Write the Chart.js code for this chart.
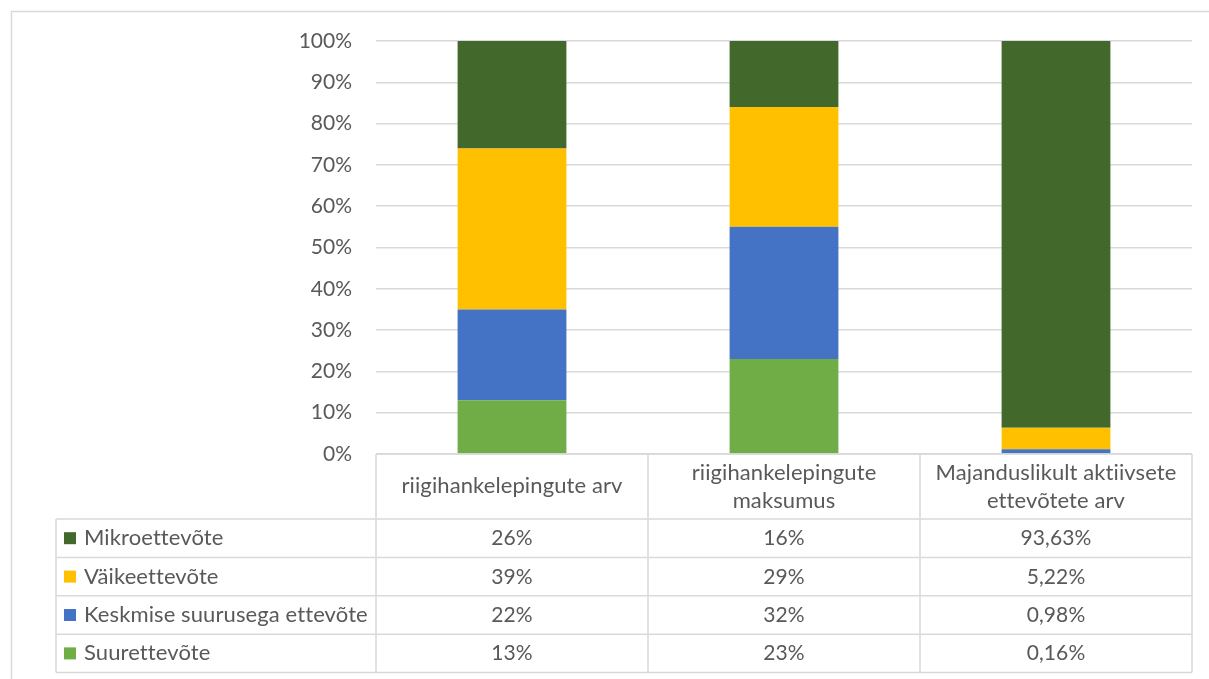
<!DOCTYPE html>
<html lang="et">
<head>
<meta charset="utf-8">
<title>Ettevõtete osakaal riigihangetes</title>
<script src="https://cdn.jsdelivr.net/npm/chart.js@4.4.1/dist/chart.umd.min.js"></script>
<style>
  html, body { margin: 0; padding: 0; background: #ffffff; }
  #wrap { position: relative; width: 1209px; height: 679px; }
  canvas { display: block; }
</style>
</head>
<body>
<div id="wrap"><canvas id="chart" width="1209" height="679"></canvas></div>
<script>
// Categories (column headers of the data table; "\n" marks a line break)
const categories = [
  'riigihankelepingute arv',
  'riigihankelepingute\nmaksumus',
  'Majanduslikult aktiivsete\nettevõtete arv'
];
// Decimal places shown in the table for each category
const decimals = [0, 0, 2];

// Shares (%) by company size
const suurettevote = [13, 23, 0.16];
const keskmine = [22, 32, 0.98];
const vaikeettevote = [39, 29, 5.22];
const mikroettevote = [26, 16, 93.63];

// Y axis ticks
const yTicks = [0, 10, 20, 30, 40, 50, 60, 70, 80, 90, 100];

const seriesDefs = [
  { label: 'Suurettevõte', values: suurettevote, color: '#70AD47' },
  { label: 'Keskmise suurusega ettevõte', values: keskmine, color: '#4472C4' },
  { label: 'Väikeettevõte', values: vaikeettevote, color: '#FFC000' },
  { label: 'Mikroettevõte', values: mikroettevote, color: '#43682B' }
];

const FONT = 'Lato, "Liberation Sans", sans-serif';
const TEXT_SIZE = 22;   // words
const NUM_SIZE = 21;    // numbers
const TEXT = '#595959';
const LINE = '#D9D9D9';

// 100% stacked: each column is normalised to its own total
const totals = categories.map((_, i) =>
  seriesDefs.reduce((s, d) => s + d.values[i], 0));

const datasets = seriesDefs.map(d => ({
  label: d.label,
  data: d.values.map((v, i) => v / totals[i] * 100),
  backgroundColor: d.color,
  borderWidth: 0,
  barPercentage: 0.4,
  categoryPercentage: 1.0,
  stack: 's'
}));

const fmt = (v, dec) => v.toFixed(dec).replace('.', ',') + '%';

// Outer frame + data table with legend keys under the plot
const tablePlugin = {
  id: 'dataTable',
  beforeDraw(chart) {
    const ctx = chart.ctx;
    ctx.save();
    ctx.strokeStyle = LINE;
    ctx.lineWidth = 1.5;
    ctx.beginPath();
    ctx.moveTo(11.5, chart.height);
    ctx.lineTo(11.5, 11.5);
    ctx.lineTo(chart.width, 11.5);
    ctx.stroke();
    ctx.restore();
  },
  afterDraw(chart) {
    const ctx = chart.ctx;
    const area = chart.chartArea;
    const xs = chart.scales.x;
    const n = categories.length;
    const colW = (area.right - area.left) / n;
    const top = area.bottom;
    const headH = 65;
    const rowH = 38.4;
    const legendLeft = 56;
    const rowsTop = top + headH;
    const rows = seriesDefs.slice().reverse();
    const bottom = rowsTop + rows.length * rowH;

    ctx.save();
    ctx.strokeStyle = LINE;
    ctx.lineWidth = 1.5;
    ctx.beginPath();
    // horizontal lines
    ctx.moveTo(area.left, top); ctx.lineTo(area.right, top);
    for (let r = 0; r <= rows.length; r++) {
      const y = rowsTop + r * rowH;
      ctx.moveTo(legendLeft, y); ctx.lineTo(area.right, y);
    }
    // vertical lines
    ctx.moveTo(legendLeft, rowsTop); ctx.lineTo(legendLeft, bottom);
    for (let c = 0; c <= n; c++) {
      const x = area.left + c * colW;
      ctx.moveTo(x, top); ctx.lineTo(x, bottom);
    }
    ctx.stroke();

    ctx.fillStyle = TEXT;
    ctx.textAlign = 'center';
    ctx.textBaseline = 'alphabetic';
    // a tiny letter spacing keeps "ti"/"tt" as separate letters
    if ('letterSpacing' in ctx) ctx.letterSpacing = '0.1px';

    // column headers
    ctx.font = TEXT_SIZE + 'px ' + FONT;
    categories.forEach((cat, i) => {
      const cx = xs.getPixelForValue(i);
      const lines = cat.split('\n');
      if (lines.length === 1) {
        ctx.fillText(lines[0], cx, top + 39);
      } else {
        ctx.fillText(lines[0], cx, top + 26);
        ctx.fillText(lines[1], cx, top + 54);
      }
    });

    // rows: legend key + values
    rows.forEach((s, r) => {
      const yc = rowsTop + r * rowH + rowH / 2;
      ctx.fillStyle = s.color;
      ctx.fillRect(64, yc - 6, 12, 12);
      ctx.fillStyle = TEXT;
      ctx.textAlign = 'left';
      ctx.font = TEXT_SIZE + 'px ' + FONT;
      ctx.fillText(s.label, 84, yc + 7);
      ctx.textAlign = 'center';
      ctx.font = NUM_SIZE + 'px ' + FONT;
      s.values.forEach((v, i) => {
        ctx.fillText(fmt(v, decimals[i]), xs.getPixelForValue(i), yc + 7);
      });
    });
    ctx.restore();
  }
};

new Chart(document.getElementById('chart'), {
  type: 'bar',
  data: { labels: categories, datasets },
  options: {
    responsive: false,
    animation: false,
    devicePixelRatio: 1,
    layout: { padding: { left: 0, top: 41, right: 17, bottom: 225 } },
    plugins: {
      legend: { display: false },
      tooltip: { enabled: false }
    },
    scales: {
      x: {
        display: false,
        stacked: true,
        offset: true
      },
      y: {
        stacked: true,
        min: 0,
        max: 100,
        afterFit(scale) { scale.width = 376; },
        afterBuildTicks(scale) { scale.ticks = yTicks.map(v => ({ value: v })); },
        border: { display: false },
        grid: { color: LINE, lineWidth: 1.5, drawTicks: false },
        ticks: {
          padding: 24,
          color: TEXT,
          font: { family: FONT, size: NUM_SIZE },
          callback: v => v + '%'
        }
      }
    }
  },
  plugins: [tablePlugin]
});
</script>
</body>
</html>
